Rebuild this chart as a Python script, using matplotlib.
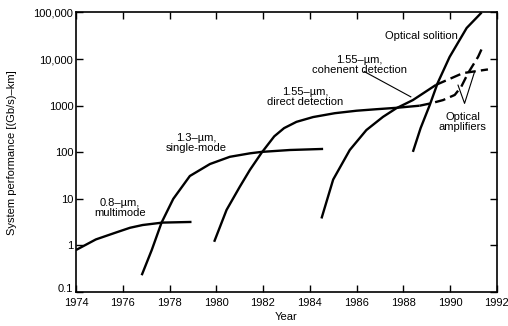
import matplotlib
matplotlib.use('Agg')
import matplotlib.pyplot as plt
import matplotlib.ticker as ticker
import matplotlib.transforms as mtransforms

plt.rcParams['font.family'] = ['Liberation Sans', 'DejaVu Sans']

# values (year, (Gb/s)-km)
mm_year = [1974.0, 1974.85, 1975.71, 1976.31, 1976.85, 1977.7, 1978.94]
mm_perf = [0.8, 1.35, 1.9, 2.4, 2.75, 3.1, 3.2]

sm_year = [1976.81, 1977.24, 1977.66, 1978.16, 1978.87, 1979.73, 1980.58, 1981.44, 1981.94, 1983.15, 1984.57]
sm_perf = [0.23, 0.8, 3.1, 10, 31, 56, 80, 95, 102, 112, 118]

dd_year = [1979.91, 1980.44, 1981.0, 1981.44, 1981.94, 1982.48, 1982.9, 1983.43, 1984.14,
           1985.07, 1986.0, 1986.85, 1987.7, 1988.7]
dd_perf = [1.2, 5.8, 18, 42, 98, 220, 330, 450, 570, 690, 780, 840, 900, 1000]

coh_year = [1984.5, 1985.0, 1985.71, 1986.42, 1987.13, 1987.7, 1988.41, 1989.4]
coh_perf = [3.8, 26, 112, 300, 575, 880, 1320, 2800]

coh_amp_year = [1989.4, 1990.55, 1991.62]
coh_amp_perf = [2800, 5000, 6000]

dd_amp_year = [1988.7, 1989.2, 1989.7, 1990.2, 1990.48, 1990.77, 1991.2, 1991.4]
dd_amp_perf = [1000, 1130, 1320, 1700, 2560, 5000, 11200, 18600]

sol_year = [1988.41, 1988.74, 1989.13, 1989.47, 1989.98, 1990.71, 1991.35]
sol_perf = [102, 330, 1030, 3070, 11100, 46500, 100000]

xticks = [1974, 1976, 1978, 1980, 1982, 1984, 1986, 1988, 1990, 1992]
yticks = [0.1, 1, 10, 100, 1000, 10000, 100000]
ylabels = ['0.1', '1', '10', '100', '1000', '10,000', '100,000']

fig = plt.figure(figsize=(5.08, 3.26), dpi=100)
ax = fig.add_axes([0.1496, 0.104, 0.8284, 0.8577])
ax.set_yscale('log')
ax.set_xlim(1974, 1992)
ax.set_ylim(0.1, 100000)

lw = 1.7
ax.plot(mm_year, mm_perf, color='black', lw=lw, solid_capstyle='butt')
ax.plot(sm_year, sm_perf, color='black', lw=lw, solid_capstyle='butt')
ax.plot(dd_year, dd_perf, color='black', lw=lw, solid_capstyle='butt')
ax.plot(coh_year, coh_perf, color='black', lw=lw, solid_capstyle='butt')
ax.plot(sol_year, sol_perf, color='black', lw=lw, solid_capstyle='butt')
l1, = ax.plot(coh_amp_year, coh_amp_perf, color='black', lw=lw)
l1.set_dashes([4.5, 2.2])
l2, = ax.plot(dd_amp_year, dd_amp_perf, color='black', lw=lw)
l2.set_dashes([4.5, 2.2])

# labels
fs = 8
ax.text(1975.88, 6.4, '0.8–µm,\nmultimode', ha='center', va='center', fontsize=fs, linespacing=1.0)
ax.text(1979.16, 158, '1.3–µm,\nsingle-mode', ha='center', va='center', fontsize=fs, linespacing=1.0)
ax.text(1983.79, 1500, '1.55–µm,\ndirect detection', ha='center', va='center', fontsize=fs, linespacing=1.0)
ax.text(1986.12, 7400, '1.55–µm,\ncohenent detection', ha='center', va='center', fontsize=fs, linespacing=1.0)
ax.text(1988.77, 32000, 'Optical solition', ha='center', va='center', fontsize=fs)
ax.text(1990.55, 450, 'Optical\namplifiers', ha='center', va='center', fontsize=fs, linespacing=1.0)

# leader lines
ax.plot([1986.33, 1988.32], [5400, 1550], color='black', lw=0.8)
ax.plot([1990.34, 1990.62, 1991.05], [2760, 1120, 5370], color='black', lw=0.8)

ax.set_xticks(xticks)
ax.set_xticklabels([str(t) for t in xticks])
ax.set_yticks(yticks)
ax.set_yticklabels(ylabels)
ax.yaxis.set_minor_locator(ticker.NullLocator())
ax.tick_params(direction='in', length=5, width=1.0, top=True, right=True, labelsize=8)
ax.tick_params(axis='x', pad=4)
ax.tick_params(axis='y', pad=2)
for s in ax.spines.values():
    s.set_linewidth(1.2)

# lift the 0.1 label a little so it clears 1974
lbl = ax.get_yticklabels()[0]
lbl.set_transform(lbl.get_transform() + mtransforms.ScaledTranslation(0, 3 / 72, fig.dpi_scale_trans))

ax.set_xlabel('Year', fontsize=8, labelpad=3)
ax.set_ylabel('System performance [(Gb/s)–km]', fontsize=8, labelpad=12)

fig.savefig('out.png', dpi=100)
